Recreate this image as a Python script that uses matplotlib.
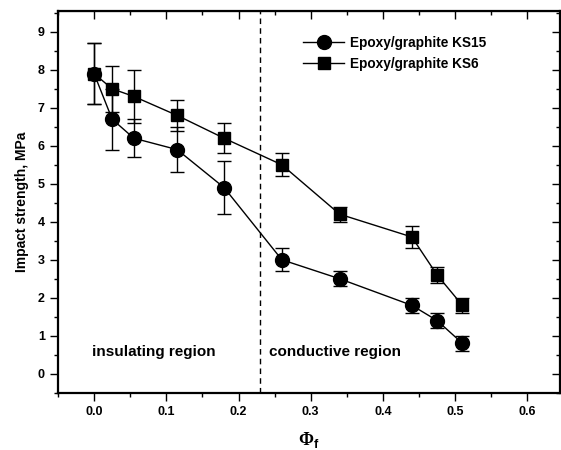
import matplotlib
matplotlib.use("Agg")
import matplotlib.pyplot as plt
from matplotlib.ticker import MultipleLocator

plt.rcParams['font.family'] = ['Liberation Sans', 'DejaVu Sans']
plt.rcParams['font.weight'] = 'bold'
plt.rcParams['mathtext.fontset'] = 'custom'
plt.rcParams['mathtext.rm'] = 'Liberation Serif'
plt.rcParams['mathtext.sf'] = 'Liberation Sans:bold'

phi = [0.0, 0.025, 0.055, 0.115, 0.18, 0.26, 0.34, 0.44, 0.475, 0.51]
ks15 = [7.9, 6.7, 6.2, 5.9, 4.9, 3.0, 2.5, 1.8, 1.4, 0.8]
ks15_err = [0.8, 0.8, 0.5, 0.6, 0.7, 0.3, 0.2, 0.2, 0.2, 0.2]
ks6 = [7.9, 7.5, 7.3, 6.8, 6.2, 5.5, 4.2, 3.6, 2.6, 1.8]
ks6_err = [0.8, 0.6, 0.7, 0.4, 0.4, 0.3, 0.2, 0.3, 0.2, 0.2]
threshold = 0.23

fig = plt.figure(figsize=(5.61, 4.5), dpi=100)
ax = fig.add_axes([0.1034, 0.1273, 0.8946, 0.8483])

e1 = ax.errorbar(phi, ks15, yerr=ks15_err, fmt='-o', color='black', ms=10,
                 lw=1, elinewidth=1, capsize=5.3, capthick=1,
                 label='Epoxy/graphite KS15')
e2 = ax.errorbar(phi, ks6, yerr=ks6_err, fmt='-s', color='black', ms=8.5,
                 lw=1, elinewidth=1, capsize=5.3, capthick=1,
                 label='Epoxy/graphite KS6')

ax.axvline(threshold, color='black', ls=(0, (4, 3)), lw=1)

ax.set_xlim(-0.05, 0.645)
ax.set_ylim(-0.5, 9.55)
ax.xaxis.set_major_locator(MultipleLocator(0.1))
ax.xaxis.set_minor_locator(MultipleLocator(0.05))
ax.yaxis.set_major_locator(MultipleLocator(1))
ax.yaxis.set_minor_locator(MultipleLocator(0.5))
ax.xaxis.set_major_formatter(matplotlib.ticker.FormatStrFormatter('%.1f'))

ax.tick_params(which='major', direction='out', length=6, width=1, labelsize=9)
ax.tick_params(which='minor', direction='out', length=3, width=1)
for lab in ax.get_xticklabels() + ax.get_yticklabels():
    lab.set_fontweight('bold')

for sp in ['bottom', 'left', 'top', 'right']:
    ax.spines[sp].set_linewidth(1.6)

secx = ax.secondary_xaxis('top')
secx.xaxis.set_major_locator(MultipleLocator(0.1))
secx.xaxis.set_minor_locator(MultipleLocator(0.05))
secx.tick_params(which='major', direction='in', length=6, width=1, labeltop=False)
secx.tick_params(which='minor', direction='in', length=3, width=1)
secy = ax.secondary_yaxis('right')
secy.yaxis.set_major_locator(MultipleLocator(1))
secy.yaxis.set_minor_locator(MultipleLocator(0.5))
secy.tick_params(which='major', direction='in', length=6, width=1, labelright=False)
secy.tick_params(which='minor', direction='in', length=3, width=1)

ax.set_ylabel('Impact strength, MPa', fontsize=10, fontweight='bold', labelpad=6)
ax.set_xlabel(r'$\mathrm{\Phi}_{\mathsf{f}}$', fontsize=13, labelpad=9)

ax.text(0.082, 0.58, 'insulating region', fontsize=11, fontweight='bold',
        ha='center', va='center')
ax.text(0.334, 0.58, 'conductive region', fontsize=11, fontweight='bold',
        ha='center', va='center')

leg = ax.legend(handles=[e1[0], e2[0]],
                labels=['Epoxy/graphite KS15', 'Epoxy/graphite KS6'],
                loc='upper left', bbox_to_anchor=(0.47, 0.96), frameon=False,
                fontsize=9.8, handlelength=3, borderpad=0.2, labelspacing=0.5,
                handletextpad=0.4)
for t in leg.get_texts():
    t.set_fontweight('bold')

fig.savefig('out.png', dpi=100)
